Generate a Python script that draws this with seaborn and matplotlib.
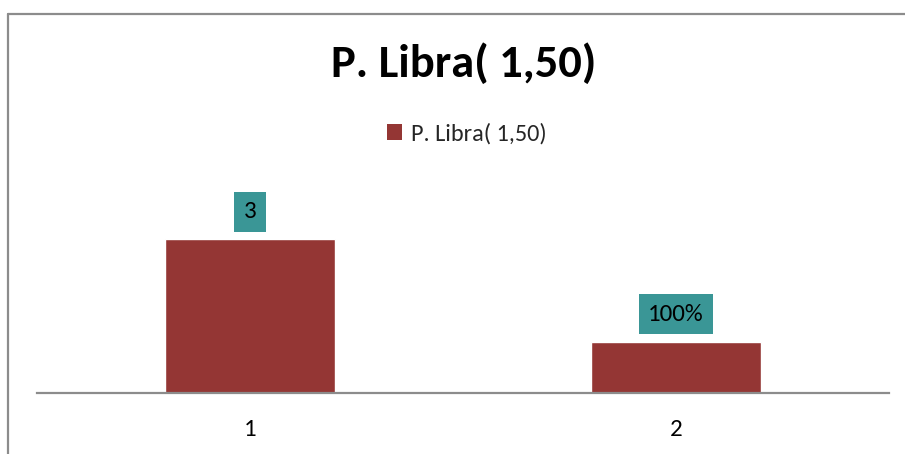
import matplotlib
matplotlib.use("Agg")
import matplotlib.pyplot as plt
from matplotlib.lines import Line2D
from matplotlib.patches import Patch
import seaborn as sns
import pandas as pd

# Chart data
categories = ["1", "2"]
values = [3, 1]
value_labels = ["3", "100%"]
series_name = "P. Libra( 1,50)"
title = "P. Libra( 1,50)"

bar_color = "#943634"
label_bg = "#3A9696"
frame_color = "#8C8C8C"

sns.set_theme(style="white")
plt.rcParams["font.family"] = ["Carlito", "Open Sans", "DejaVu Sans"]

fig = plt.figure(figsize=(9.05, 4.54), dpi=100)
ax = fig.add_axes([37 / 905, 61 / 454, 852 / 905, 180 / 454])

df = pd.DataFrame({"cat": categories, "val": values})
sns.barplot(data=df, x="cat", y="val", color=bar_color, saturation=1,
            width=0.4, ax=ax)

ax.set_ylim(0, 3.5)
ax.set_xlabel("")
ax.set_ylabel("")
ax.set_yticks([])
ax.tick_params(axis="x", length=0, pad=19, labelsize=18, colors="black")
for side in ["top", "right", "left"]:
    ax.spines[side].set_visible(False)
ax.spines["bottom"].set_color("#8C8C8C")
ax.spines["bottom"].set_linewidth(1.6)

# value labels in boxes above each bar
for patch, txt in zip(ax.patches, value_labels):
    x = patch.get_x() + patch.get_width() / 2
    y = patch.get_height()
    ax.annotate(txt, xy=(x, y), xytext=(0, 12), textcoords="offset points",
                ha="center", va="bottom", fontsize=18, color="black",
                bbox=dict(boxstyle="square,pad=0.38", fc=label_bg, ec="none"))

fig.text(464 / 905, 1 - 77 / 454, title, ha="center", va="baseline",
         fontsize=33.5, fontweight="bold", color="black")

handle = Patch(facecolor=bar_color, edgecolor="none")
fig.legend([handle], [series_name], loc="center",
           bbox_to_anchor=(467 / 905, 1 - 134 / 454), frameon=False,
           fontsize=17.5, handlelength=0.62, handleheight=0.62,
           handletextpad=0.35, borderpad=0)

# chart frame (top and left edges)
fig.add_artist(Line2D([7.5 / 905, 1], [1 - 13.5 / 454, 1 - 13.5 / 454],
                      transform=fig.transFigure, color=frame_color, lw=1.6))
fig.add_artist(Line2D([7.5 / 905, 7.5 / 905], [0, 1 - 13.5 / 454],
                      transform=fig.transFigure, color=frame_color, lw=1.6))

fig.savefig("out.png", dpi=100)
